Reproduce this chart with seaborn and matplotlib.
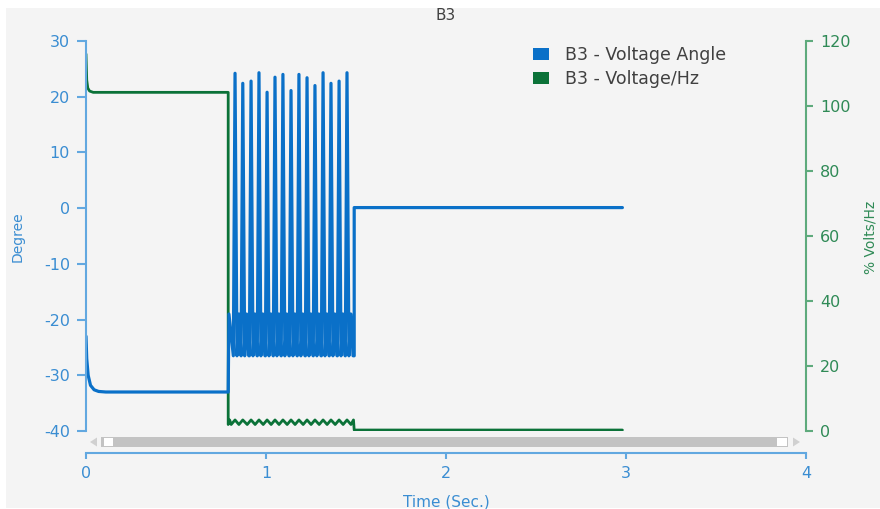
import numpy as np
import pandas as pd
import matplotlib
matplotlib.use("Agg")
import matplotlib.pyplot as plt
from matplotlib.patches import Rectangle, Polygon, Patch
import seaborn as sns

# ---- data -------------------------------------------------------------
# Voltage angle (degrees): settling after start-up
angle_start_t = [0.0, 0.004, 0.012, 0.025, 0.045, 0.07, 0.11, 0.79]
angle_start_v = [-23.0, -27.0, -30.0, -31.8, -32.6, -32.9, -33.0, -33.0]

# oscillation during the disturbance: peak times and peak values
osc_peak_t = [0.828, 0.871, 0.917, 0.961, 1.006, 1.050, 1.094, 1.139,
              1.183, 1.228, 1.272, 1.317, 1.361, 1.406, 1.450]
osc_peak_v = [24.2, 22.4, 22.8, 24.3, 20.8, 23.5, 24.0, 21.1,
              24.0, 23.4, 22.0, 24.3, 22.4, 22.8, 24.3]
osc_trough_v = -26.5
osc_mid_v = -19.0
fault_start_t = 0.79
fault_clear_t = 1.49
angle_after_v = 0.1
end_t = 2.98

# Voltage/Hz (%)
vhz_start_t = [0.0, 0.004, 0.01, 0.02, 0.04, 0.79]
vhz_start_v = [116.0, 108.0, 105.5, 104.6, 104.2, 104.2]
vhz_fault_hi = 3.4
vhz_fault_lo = 2.0
vhz_after_v = 0.3

left_ticks = [-40, -30, -20, -10, 0, 10, 20, 30]
right_ticks = [0, 20, 40, 60, 80, 100, 120]
x_ticks = [0, 1, 2, 3, 4]

series_names = ["B3 - Voltage Angle", "B3 - Voltage/Hz"]

# ---- build the traces -------------------------------------------------
period = osc_peak_t[1] - osc_peak_t[0]

at = list(angle_start_t)
av = list(angle_start_v)
# jump from the pre-fault level straight into the oscillation
at += [fault_start_t, fault_start_t + 0.004]
av += [-33.0, osc_mid_v]
for t, v in zip(osc_peak_t, osc_peak_v):
    at += [t - 0.22 * period, t]
    av += [osc_trough_v, v]
    at += [t + 0.25 * period, t + 0.5 * period, t + 0.78 * period]
    av += [osc_trough_v, osc_mid_v, osc_trough_v]
at += [fault_clear_t, fault_clear_t, end_t]
av += [osc_trough_v, angle_after_v, angle_after_v]

vt = list(vhz_start_t)
vv = list(vhz_start_v)
vt += [fault_start_t, fault_start_t + 0.008]
vv += [vhz_fault_lo, vhz_fault_hi]
for t in osc_peak_t:
    vt += [t - 0.5 * period, t]
    vv += [vhz_fault_lo, vhz_fault_hi]
vt += [fault_clear_t - 0.018, fault_clear_t - 0.004, fault_clear_t, end_t]
vv += [vhz_fault_lo, vhz_fault_hi, vhz_after_v, vhz_after_v]

angle_df = pd.DataFrame({"time": at, "value": av})
vhz_df = pd.DataFrame({"time": vt, "value": vv})

# ---- style ------------------------------------------------------------
sns.set_theme(style="white")
plt.rcParams["font.family"] = ["DejaVu Sans"]
plt.rcParams["axes.unicode_minus"] = False

W, H = 880, 509
DPI = 100
BLUE = "#0a70c8"
GREEN = "#0b7238"
BLUE_AX = "#62a8e0"
BLUE_TXT = "#3a8dd2"
GREEN_AX = "#5eaa7c"
GREEN_TXT = "#2f8a56"
TXT = "#404040"


def fx(x):
    return x / W


def fy(y):
    return 1 - y / H


fig = plt.figure(figsize=(W / DPI, H / DPI), dpi=DPI, facecolor="white")
fig.patches.append(Rectangle((fx(6), fy(508)), fx(880) - fx(6), fy(8) - fy(508),
                             transform=fig.transFigure, facecolor="#f4f4f4",
                             edgecolor="none", zorder=-10))

ax = fig.add_axes([fx(86), fy(431), fx(806) - fx(86), fy(41) - fy(431)])
ax.set_facecolor("none")
ax2 = ax.twinx()
ax2.set_facecolor("none")
ax2.set_zorder(1)
ax.set_zorder(2)

sns.lineplot(data=vhz_df, x="time", y="value", ax=ax2, color=GREEN,
             linewidth=2.0, sort=False, estimator=None)
sns.lineplot(data=angle_df, x="time", y="value", ax=ax, color=BLUE,
             linewidth=2.3, sort=False, estimator=None)

ax.set_xlim(0, 4)
ax.set_ylim(-40, 30)
ax2.set_ylim(0, 120)
ax.set_xticks(x_ticks)
ax.set_yticks(left_ticks)
ax2.set_yticks(right_ticks)
ax.set_xlabel("")
ax.set_ylabel("")
ax2.set_xlabel("")
ax2.set_ylabel("")

for a in (ax, ax2):
    for s in a.spines.values():
        s.set_visible(False)

ax.spines["left"].set_visible(True)
ax.spines["left"].set_color(BLUE_AX)
ax.spines["left"].set_linewidth(1.5)
ax.spines["bottom"].set_visible(True)
ax.spines["bottom"].set_color(BLUE_AX)
ax.spines["bottom"].set_linewidth(1.5)
ax.spines["bottom"].set_position(("outward", 15.5))
ax2.spines["right"].set_visible(True)
ax2.spines["right"].set_color(GREEN_AX)
ax2.spines["right"].set_linewidth(1.5)

ax.tick_params(axis="y", left=True, length=6.5, width=1.5, color=BLUE_AX,
               labelcolor=BLUE_TXT, labelsize=11.5, pad=5)
ax.tick_params(axis="x", bottom=True, length=4, width=1.5, color=BLUE_AX,
               labelcolor=BLUE_TXT, labelsize=11.5, pad=6)
ax2.tick_params(axis="y", right=True, length=5, width=1.5, color=GREEN_AX,
                labelcolor=GREEN_TXT, labelsize=11.5, pad=5)

# axis titles and chart title
fig.text(fx(446), fy(15), "B3", ha="center", va="center", color=TXT, fontsize=11)
fig.text(fx(18), fy(237), "Degree", ha="center", va="center", rotation=90,
         color=BLUE_TXT, fontsize=10)
fig.text(fx(870), fy(237), "% Volts/Hz", ha="center", va="center", rotation=90,
         color=GREEN_TXT, fontsize=10)
fig.text(fx(446), fy(502), "Time (Sec.)", ha="center", va="center",
         color=BLUE_TXT, fontsize=11)

# legend
handles = [Patch(facecolor=BLUE, edgecolor="none"),
           Patch(facecolor=GREEN, edgecolor="none")]
fig.legend(handles, series_names, loc="upper left",
           bbox_to_anchor=(fx(533), fy(46)), frameon=False, fontsize=12.5,
           labelcolor=TXT, handlelength=0.92, handleheight=0.69,
           handletextpad=0.9, labelspacing=0.35, borderaxespad=0,
           borderpad=0)

# horizontal scroll bar under the plot area
fig.patches.append(Rectangle((fx(101), fy(447)), fx(788) - fx(101), fy(437) - fy(447),
                             transform=fig.transFigure, facecolor="#c3c3c3",
                             edgecolor="none", zorder=3))
for x0, x1 in ((104, 112.5), (777, 786.5)):
    fig.patches.append(Rectangle((fx(x0), fy(446)), fx(x1) - fx(x0), fy(438) - fy(446),
                                 transform=fig.transFigure, facecolor="white",
                                 edgecolor="none", zorder=4))
fig.patches.append(Polygon([(fx(90), fy(442)), (fx(97), fy(437.5)), (fx(97), fy(446.5))],
                           closed=True, transform=fig.transFigure,
                           facecolor="#d0d0d0", edgecolor="none", zorder=3))
fig.patches.append(Polygon([(fx(800), fy(442)), (fx(793), fy(437.5)), (fx(793), fy(446.5))],
                           closed=True, transform=fig.transFigure,
                           facecolor="#d0d0d0", edgecolor="none", zorder=3))

fig.savefig("out.png", dpi=DPI, facecolor="white")
